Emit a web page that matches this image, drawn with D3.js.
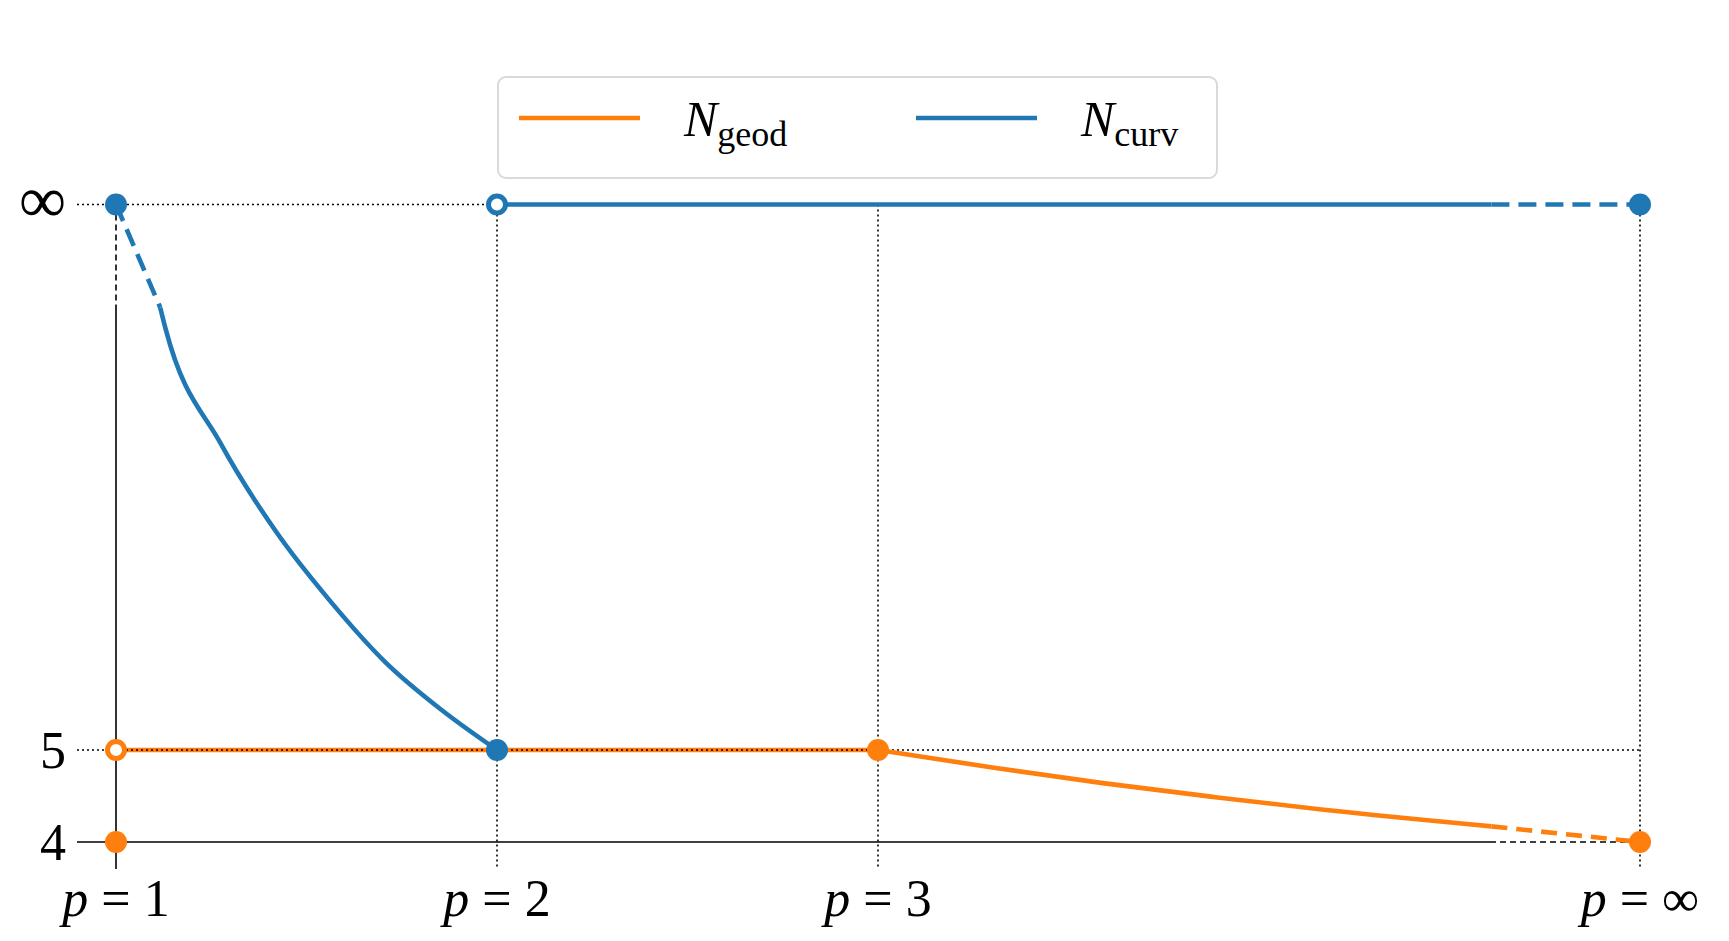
<!DOCTYPE html>
<html lang="en">
<head>
<meta charset="UTF-8">
<title>N_geod and N_curv</title>
<script src="https://d3js.org/d3.v7.min.js"></script>
<style>
body { margin: 0; background: #fff; }
text { font-family: "Liberation Serif", "DejaVu Serif", serif; }
</style>
</head>
<body>
<div id="chart"></div>
<script>
// where "infinity" sits on each axis
var P_INF = 5, N_INF = 10.93;

var xTicks = [1, 2, 3, P_INF];
var xTickLabels = ["1", "2", "3", "\u221E"];
var yTicks = [4, 5, N_INF];
var yTickLabels = ["4", "5", "\u221E"];

// N_curv: dashed start, solid curve p=1..2, flat at infinity
var curvDash = [[1, N_INF], [1.116, 9.81]];
var curvCurve = [[1.116, 9.81], [1.130, 9.58], [1.275, 8.33], [1.419, 7.38], [1.564, 6.61], [1.708, 5.95], [1.853, 5.44], [2, 5]];
var curvTop = [[2, N_INF], [4.61, N_INF]];
var curvTopDash = [[4.61, N_INF], [P_INF, N_INF]];

// N_geod: flat at 5 to p=3, decreasing to 4
var geodFlat = [[1, 5], [3, 5]];
var geodCurve = [[3, 5], [3.30, 4.81], [3.59, 4.64], [3.88, 4.49], [4.17, 4.35], [4.61, 4.17]];
var geodDash = [[4.61, 4.17], [P_INF, 4]];

var curvFilled = [[1, N_INF], [2, 5], [P_INF, N_INF]];
var curvHollow = [[2, N_INF]];
var geodFilled = [[1, 4], [3, 5], [P_INF, 4]];
var geodHollow = [[1, 5]];

var W = 1729, H = 941;
var blue = "#1f77b4", orange = "#ff7f0e";

var x = d3.scaleLinear().domain([1, 2]).range([116, 497]);
var y = d3.scaleLinear().domain([4, 5]).range([842, 750]);

var svg = d3.select("#chart").append("svg").attr("width", W).attr("height", H);

// grid guides
function seg(x1, y1, x2, y2, dash) {
    svg.append("line")
        .attr("x1", x1).attr("y1", y1).attr("x2", x2).attr("y2", y2)
        .attr("stroke", "#000").attr("stroke-width", 1.6)
        .attr("stroke-dasharray", dash);
}
seg(77, y(N_INF), x(2), y(N_INF), "2,3");
seg(77, y(5), x(P_INF), y(5), "2,3");
[2, 3, P_INF].forEach(function (p) { seg(x(p), y(N_INF), x(p), 869, "2,3"); });

// axes
seg(x(1), y(N_INF), x(1), 309, "6,4");
seg(x(1), 309, x(1), 869, null);
seg(77, y(4), 1490, y(4), null);
seg(1490, y(4), x(P_INF), y(4), "6,4");

var line = d3.line().x(function (d) { return x(d[0]); }).y(function (d) { return y(d[1]); });
var curveLine = d3.line().curve(d3.curveMonotoneX).x(function (d) { return x(d[0]); }).y(function (d) { return y(d[1]); });

function path(data, gen, color, dash) {
    svg.append("path").datum(data).attr("d", gen)
        .attr("fill", "none").attr("stroke", color).attr("stroke-width", 4.6)
        .attr("stroke-dasharray", dash);
}
path(geodFlat, line, orange, null);
seg(x(1), y(5), x(3), y(5), "2,3");
path(geodCurve, curveLine, orange, null);
path(geodDash, line, orange, "16,9");
path(curvDash, line, blue, "18,9");
path(curvCurve, curveLine, blue, null);
path(curvTop, line, blue, null);
path(curvTopDash, line, blue, "18,9");

function dots(data, color, hollow) {
    svg.selectAll(null).data(data).enter().append("circle")
        .attr("cx", function (d) { return x(d[0]); })
        .attr("cy", function (d) { return y(d[1]); })
        .attr("r", hollow ? 8.5 : 11)
        .attr("fill", hollow ? "#fff" : color)
        .attr("stroke", color).attr("stroke-width", hollow ? 5 : 0);
}
dots(geodFilled, orange, false);
dots(geodHollow, orange, true);
dots(curvFilled, blue, false);
dots(curvHollow, blue, true);

// tick labels
svg.selectAll(null).data(yTicks).enter().append("text")
    .attr("x", 66).attr("y", function (d) { return y(d) + 18; })
    .attr("text-anchor", "end").attr("font-size", function (d, i) { return i === 2 ? 66 : 52; })
    .text(function (d, i) { return yTickLabels[i]; });

var xl = svg.selectAll(null).data(xTicks).enter().append("text")
    .attr("x", function (d) { return x(d); }).attr("y", 916)
    .attr("text-anchor", "middle").attr("font-size", 52);
xl.append("tspan").attr("font-style", "italic").text("p");
xl.append("tspan").text(function (d, i) { return " = " + xTickLabels[i]; });

// legend
svg.append("rect").attr("x", 498).attr("y", 77).attr("width", 719).attr("height", 101)
    .attr("rx", 8).attr("fill", "#fff").attr("stroke", "#d9d9d9").attr("stroke-width", 2);
var legend = [["geod", orange, 519, 684], ["curv", blue, 916, 1081]];
legend.forEach(function (l) {
    svg.append("line").attr("x1", l[2]).attr("x2", l[2] + 121).attr("y1", 118).attr("y2", 118)
        .attr("stroke", l[1]).attr("stroke-width", 4.6);
    var t = svg.append("text").attr("x", l[3]).attr("y", 136).attr("font-size", 50);
    t.append("tspan").attr("font-style", "italic").text("N");
    t.append("tspan").attr("font-size", 36).attr("dy", 10).text(l[0]);
});
</script>
</body>
</html>
